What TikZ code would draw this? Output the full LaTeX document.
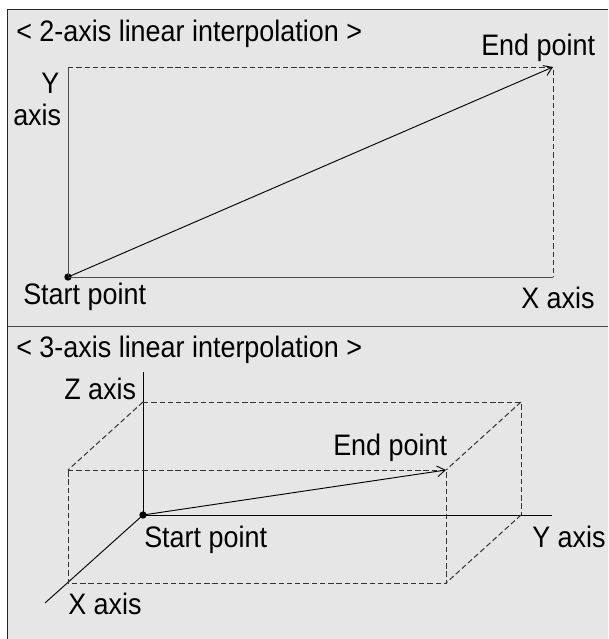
\documentclass[tikz,border=0pt]{standalone}
\usepackage{fontspec}
\setmainfont{Liberation Sans}
\usepackage{xcolor}
\usetikzlibrary{arrows.meta}
\definecolor{panelgray}{HTML}{E6E6E6}
\definecolor{framegray}{HTML}{4A4A4A}
\tikzset{
  label/.style={
    anchor=base west,
    inner sep=0pt,
    yscale=1.1,
    transform shape,
    font=\fontsize{20.2}{24}\selectfont
    },
  axis/.style={draw=black, line width=0.7pt},
  guide/.style={draw=black!80, line width=0.75pt, dash pattern=on 4pt off 2.2pt},
  route/.style={draw=black, line width=0.7pt, -{Straight Barb[length=6pt,width=8pt]}},
  origin/.style={circle, fill=black, minimum size=5.5pt, inner sep=0pt},
}
\begin{document}
\begin{tikzpicture}[x=0.75pt,y=-0.75pt]
    \useasboundingbox (0,0) rectangle (608,639);

    % Draw the panel and its frame
    \fill[panelgray] (7.5,9.5) rectangle (608,639);
    \draw[black!85, line width=0.8pt] (608,9.5) -- (7.5,9.5) -- (7.5,639);
    \draw[framegray, line width=0.8pt] (7.5,326.5) -- (608,326.5);

    % Corners of the 2-axis picture
    \node[origin] (S2) at (68,277) {};
    \coordinate (Y2) at (68,67);
    \coordinate (X2) at (553,277);
    \coordinate (E2) at (553,67);

    \draw[axis, black!70] (Y2) -- (S2.center) -- (X2);
    \draw[guide] (Y2) -- (E2) -- (X2);
    \draw[route] (S2.center) -- (E2);

    % Labels of the 2-axis picture
    \node[label] (title2) at (16,41) {< 2-axis linear interpolation >};
    \node[label] (end2) at (481,55) {End point};
    \node[label] (ylabel) at (41,93) {Y};
    \node[label] (ylabel2) at (13,125) {axis};
    \node[label] (start2) at (23,304) {Start point};
    \node[label] (xlabel2) at (521,308) {X axis};

    % Corners of the 3-axis picture
    \node[origin] (S3) at (143,515) {};
    \coordinate (Ztop) at (143,372);
    \coordinate (Yend) at (552,515);
    \coordinate (Xend) at (45,603);
    \coordinate (A) at (143,402);
    \coordinate (B) at (521,402);
    \coordinate (C) at (521,515);
    \coordinate (D) at (68,470);
    \coordinate (E3) at (446,470);
    \coordinate (F) at (68,583);
    \coordinate (G) at (446,583);

    \draw[axis] (Ztop) -- (S3.center);
    \draw[axis] (S3.center) -- (Yend);
    \draw[axis] (S3.center) -- (Xend);
    \draw[guide] (A) -- (B) -- (C);
    \draw[guide] (A) -- (D);
    \draw[guide] (B) -- (E3);
    \draw[guide] (C) -- (G);
    \draw[guide] (D) -- (E3) -- (G) -- (F) -- (D);
    \draw[route] (S3.center) -- (E3);

    % Labels of the 3-axis picture
    \node[label] (title3) at (16,357) {< 3-axis linear interpolation >};
    \node[label] (zlabel) at (64,399) {Z axis};
    \node[label] (end3) at (333,455) {End point};
    \node[label] (start3) at (144,547) {Start point};
    \node[label] (ylabel3) at (532,547) {Y axis};
    \node[label] (xlabel3) at (68,614) {X axis};
\end{tikzpicture}
\end{document}
